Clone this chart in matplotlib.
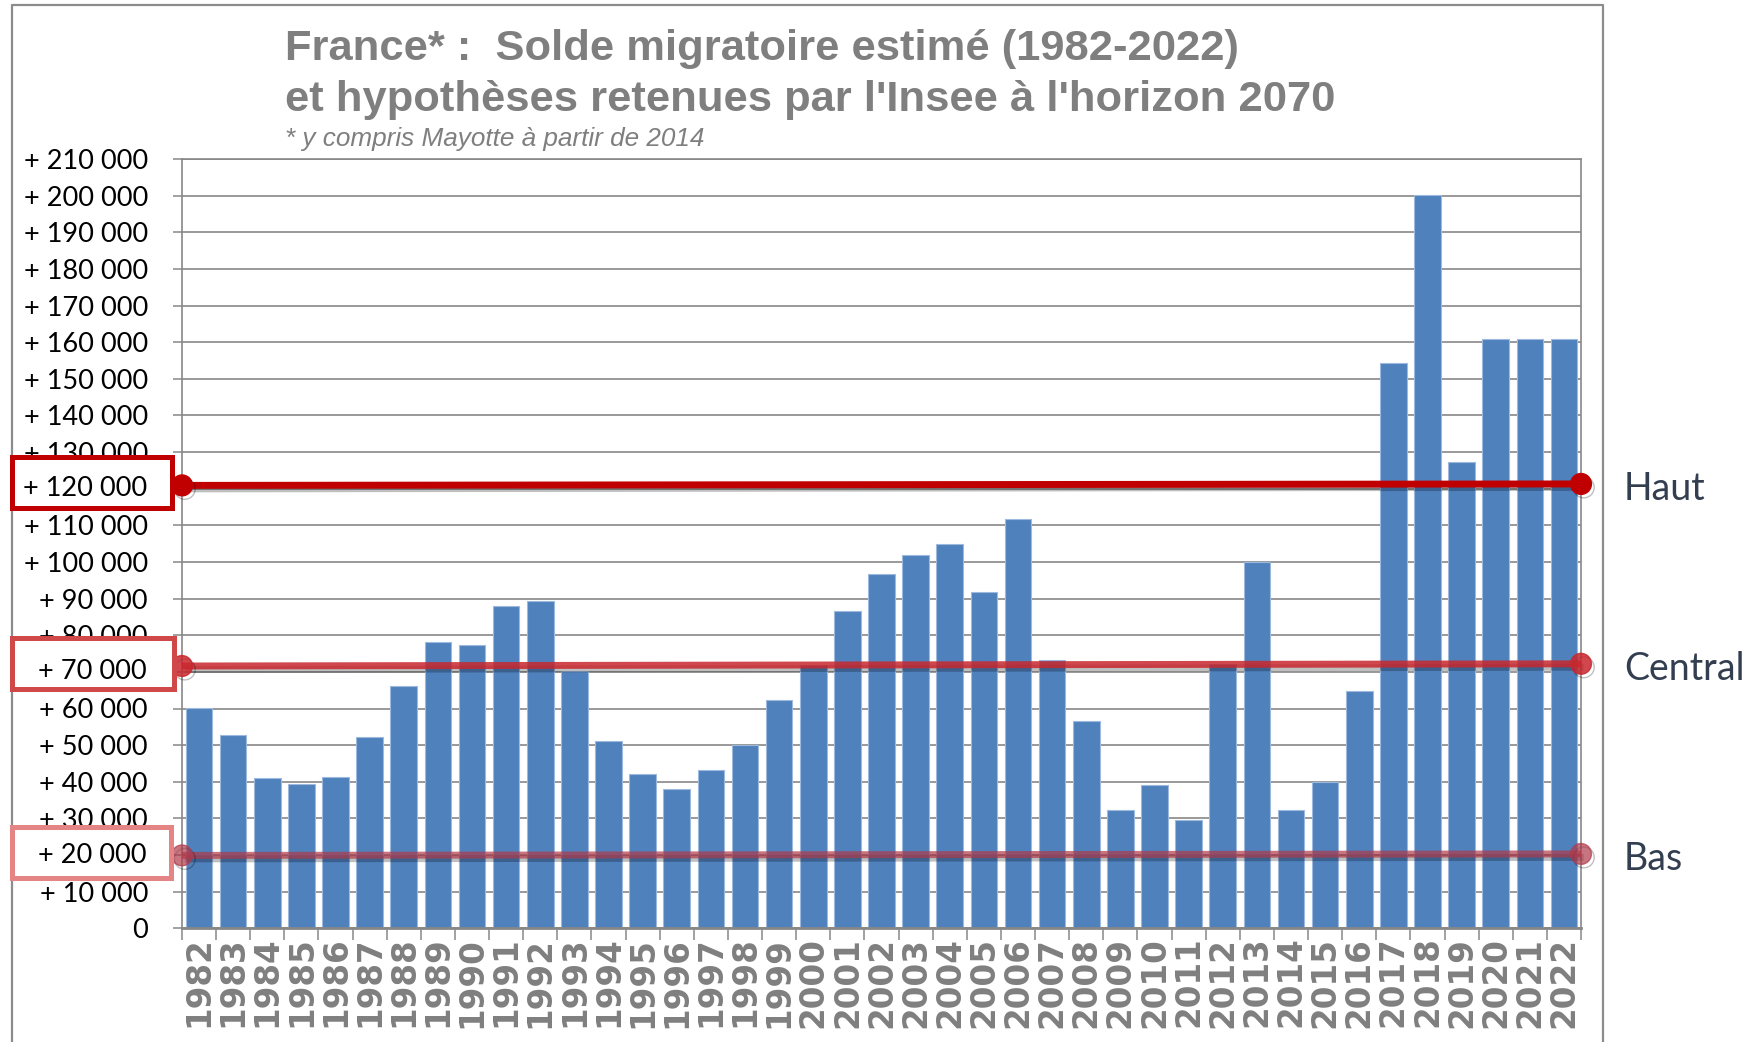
"""Solde migratoire estimé de la France (1982-2022) et hypothèses Insee 2070."""

import matplotlib
matplotlib.use("Agg")
import matplotlib.pyplot as plt
import matplotlib.patheffects as pe
from matplotlib.lines import Line2D
from matplotlib.patches import Rectangle
from matplotlib.transforms import blended_transform_factory


YEARS = list(range(1982, 2023))
SOLDE = [
    60100, 52900, 41100, 39500, 41400, 52300, 66200, 78100, 77400, 88100,
    89300, 70200, 51100, 42000, 38000, 43100, 49900, 62200, 71900, 86700,
    96600, 101800, 105000, 91800, 111700, 73300, 56600, 32400, 39000, 29500,
    72200, 99900, 32400, 39900, 64700, 154200, 200100, 127400, 160800, 160800,
    160800,
]

# hypothèses Insee : (nom, niveau à gauche, niveau à droite, libellé boîte)
HYP_NAMES = ["Haut", "Central", "Bas"]
HYP_LEFT = [120900, 71600, 19900]
HYP_RIGHT = [121300, 72200, 20300]
HYP_BOX_LABEL = ["+ 120 000", "+ 70 000", "+ 20 000"]
HYP_TICK = [120000, 70000, 20000]

Y_TICKS = list(range(0, 210001, 10000))

BAR_COLOR = "#4F81BD"
GRID_COLOR = "#878787"
TITLE_COLOR = "#7F7F7F"
HYP_COLORS = ["#C00000", "#C8282E", "#B03A4A"]
HYP_ALPHA = [1.0, 0.85, 0.7]
BOX_COLORS = ["#C00000", "#D04848", "#E58484"]
LABEL_COLOR = "#333F50"

W, H = 1757, 1042


def fmt(v: int) -> str:
    if v == 0:
        return "0"
    return "+ " + f"{v:,}".replace(",", " ")


def main() -> None:
    fig = plt.figure(figsize=(W / 100, H / 100), dpi=100)
    ax = fig.add_axes([182 / W, 1 - 928.3 / H, (1581 - 182) / W,
                       (928.3 - 159) / H])

    x = list(range(len(YEARS)))
    ax.bar(x, SOLDE, width=0.78, color=BAR_COLOR, edgecolor="#9DB9DE",
           linewidth=0.8, zorder=2)

    ax.set_xlim(-0.5, len(YEARS) - 0.5)
    ax.set_ylim(0, 210000)

    # grille et axes
    ax.set_yticks(Y_TICKS)
    ax.set_yticklabels(["" if v in HYP_TICK else fmt(v) for v in Y_TICKS],
                       fontfamily="Lato", fontsize=19.5, color="black")
    ax.yaxis.grid(True, color=GRID_COLOR, linewidth=1.2, zorder=1)
    ax.set_axisbelow(True)
    ax.tick_params(axis="y", direction="out", length=6.5, width=1.1,
                   color=GRID_COLOR, pad=18)

    ax.set_xticks(x)
    ax.set_xticklabels([str(y) for y in YEARS], rotation=90,
                       fontfamily="DejaVu Sans", fontweight="bold",
                       fontsize=23.5, color=TITLE_COLOR)
    ax.tick_params(axis="x", which="major", length=0, pad=6)
    ax.set_xticks([i - 0.5 for i in range(len(YEARS) + 1)], minor=True)
    ax.tick_params(axis="x", which="minor", direction="out", length=8.6,
                   width=1.1, color=GRID_COLOR)
    for side in ["left", "right", "top"]:
        ax.spines[side].set_color(GRID_COLOR)
        ax.spines[side].set_linewidth(1.2)
    ax.spines["bottom"].set_color(GRID_COLOR)
    ax.spines["bottom"].set_linewidth(2)

    # lignes d'hypothèses
    xl = [-0.5, len(YEARS) - 0.5]
    shadow = [pe.SimpleLineShadow(offset=(2, -2.5), alpha=0.25), pe.Normal()]
    for i, name in enumerate(HYP_NAMES):
        ax.plot(xl, [HYP_LEFT[i], HYP_RIGHT[i]], color=HYP_COLORS[i],
                alpha=HYP_ALPHA[i], linewidth=5, marker="o", markersize=15,
                solid_capstyle="butt", clip_on=False, zorder=4,
                path_effects=shadow)

    # boîtes autour des niveaux, et libellés à droite
    tr = blended_transform_factory(fig.transFigure, ax.transData)
    box_x = [(12, 172), (12, 174), (12, 171)]
    for i, name in enumerate(HYP_NAMES):
        x0, x1 = box_x[i]
        mid = HYP_LEFT[i] + 700
        fig.add_artist(Rectangle((x0 / W, mid - 6950), (x1 - x0) / W, 13900,
                                 transform=tr, facecolor="white",
                                 edgecolor=BOX_COLORS[i], linewidth=3.6,
                                 zorder=5))
        fig.text(147 / W, HYP_TICK[i], HYP_BOX_LABEL[i], transform=tr,
                 ha="right", va="center", fontfamily="Lato", fontsize=19.5,
                 color="black", zorder=6)
        fig.text(1624 / W, HYP_LEFT[i] - 900, name, transform=tr, ha="left",
                 va="center", fontfamily="Lato", fontsize=27,
                 color=LABEL_COLOR)

    # titres
    fig.text(285 / W, 1 - 49 / H,
             "France* :  Solde migratoire estimé (1982-2022)",
             fontfamily="Liberation Sans", fontweight="bold", fontsize=31.3,
             color=TITLE_COLOR, va="center", ha="left")
    fig.text(285 / W, 1 - 100 / H,
             "et hypothèses retenues par l'Insee à l'horizon 2070",
             fontfamily="Liberation Sans", fontweight="bold", fontsize=31.3,
             color=TITLE_COLOR, va="center", ha="left")
    fig.text(285 / W, 1 - 139 / H, "* y compris Mayotte à partir de 2014",
             fontfamily="Liberation Sans", fontstyle="italic", fontsize=18.8,
             color=TITLE_COLOR, va="center", ha="left")

    # cadre extérieur (ouvert en bas)
    frame = dict(color="#8C8C8C", linewidth=1.6,
                 transform=fig.transFigure)
    fig.add_artist(Line2D([12 / W, 12 / W, 1603 / W, 1603 / W],
                          [0, 1 - 5 / H, 1 - 5 / H, 0], **frame))

    fig.savefig("out.png", dpi=100, facecolor="white")
    plt.close(fig)


if __name__ == "__main__":
    main()
